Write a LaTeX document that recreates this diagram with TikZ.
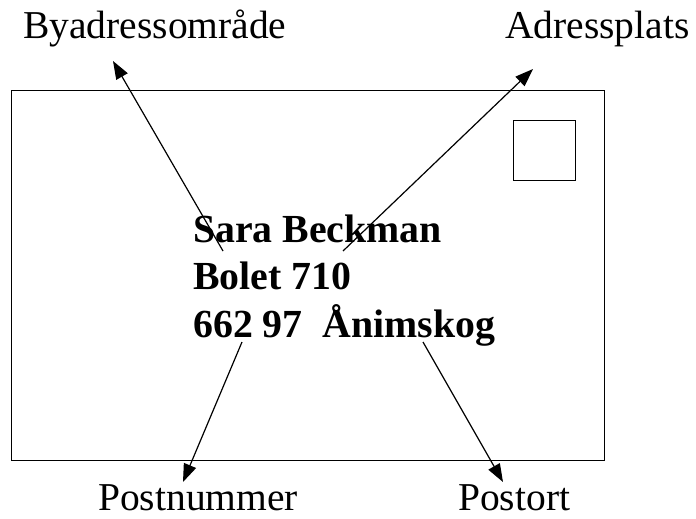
\documentclass[tikz,border=0pt]{standalone}
\usepackage{fontspec}
\setmainfont{Liberation Serif}
\usetikzlibrary{arrows.meta}
\begin{document}
\begin{tikzpicture}[x=1pt,y=-1pt,
  lbl/.style={anchor=base west,inner sep=0pt,font=\fontsize{39.5}{46}\selectfont},
  addr/.style={anchor=base west,inner sep=0pt,font=\fontsize{39.8}{47}\selectfont\bfseries},
  box/.style={draw,line width=1.4pt},
  ptr/.style={line width=1.2pt,-{Triangle[length=18pt,width=13pt]}}]
\useasboundingbox (0,0) rectangle (696,519);
\node[box,minimum width=593pt,minimum height=370pt,anchor=north west,inner sep=0pt] (env) at (11,90) {};
\node[box,minimum width=62pt,minimum height=60pt,anchor=north west,inner sep=0pt] (stamp) at (513,120) {};
\node[lbl] (bya) at (23,39) {Byadressområde};
\node[lbl] (adr) at (505,39) {Adressplats};
\node[lbl] (pnr) at (98,510) {Postnummer};
\node[lbl] (port) at (458,510) {Postort};
\node[addr] (l1) at (193,242) {Sara Beckman};
\node[addr] (l2) at (193,289) {Bolet 710};
\node[addr] (l3) at (193,337) {662 97\ \ Ånimskog};
\coordinate (s1) at (223,251);
\coordinate (t1) at (113,61);
\coordinate (s2) at (343,251);
\coordinate (t2) at (533,69);
\coordinate (s3) at (242,342);
\coordinate (t3) at (183,482);
\coordinate (s4) at (423,342);
\coordinate (t4) at (503,482);
\draw[ptr] (s1) -- (t1);
\draw[ptr] (s2) -- (t2);
\draw[ptr] (s3) -- (t3);
\draw[ptr] (s4) -- (t4);
\end{tikzpicture}
\end{document}
